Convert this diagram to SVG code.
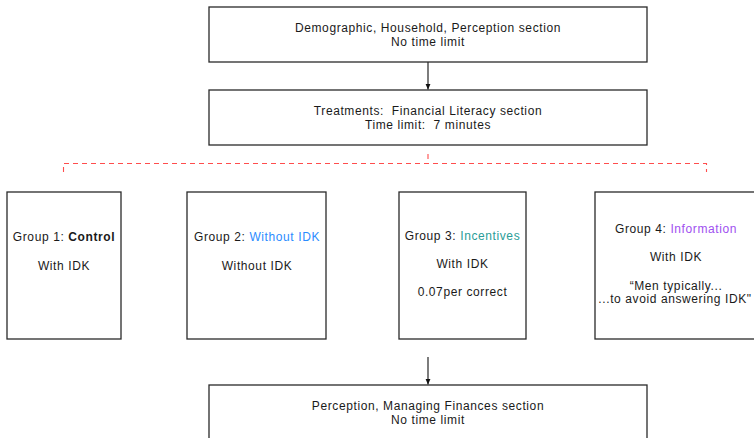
<svg xmlns="http://www.w3.org/2000/svg" width="754" height="438" viewBox="0 0 754 438">
<style>
.box{fill:#fff;stroke:#2a2a2a;stroke-width:1.3}
text{font-family:"Liberation Sans",Arial,Helvetica,sans-serif;font-size:12px;letter-spacing:0.6px;fill:#1a1a1a;text-anchor:middle}
.conn{stroke:#111;stroke-width:1.1;fill:none}
.dash{stroke:#ff4d4d;stroke-width:1.1;fill:none;stroke-dasharray:5 4}
.b{font-weight:bold}
.blue{fill:#2b8cff}
.teal{fill:#2a9d98}
.purple{fill:#a050f0}
</style>
<defs>
<marker id="arr" viewBox="0 0 8 8" refX="8" refY="4" markerWidth="6" markerHeight="6" orient="auto" markerUnits="userSpaceOnUse">
<path d="M0,0.5 L8,4 L0,7.5 Z" fill="#111"/>
</marker>
</defs>
<g id="connectors">
<line class="conn" x1="428" y1="62" x2="428" y2="89.5" marker-end="url(#arr)"/>
<line class="conn" x1="428" y1="357" x2="428" y2="384.5" marker-end="url(#arr)"/>
<path class="dash" d="M428,154 V163.5"/>
<path class="dash" d="M63.5,172 V163.5 H706.5 V172"/>
</g>
<g id="demographic">
<rect class="box" x="209" y="7" width="438" height="55"/>
<text x="428" y="32">Demographic, Household, Perception section</text>
<text x="428" y="46">No time limit</text>
</g>
<g id="treatments">
<rect class="box" x="209" y="90" width="438" height="55"/>
<text x="428" y="115" xml:space="preserve">Treatments:  Financial Literacy section</text>
<text x="428" y="129" xml:space="preserve">Time limit:  7 minutes</text>
</g>
<g id="group1">
<rect class="box" x="7" y="192" width="114" height="147"/>
<text x="64" y="241">Group 1: <tspan class="b">Control</tspan></text>
<text x="64" y="270">With IDK</text>
</g>
<g id="group2">
<rect class="box" x="187" y="192" width="139" height="147"/>
<text x="257" y="241">Group 2: <tspan class="blue">Without IDK</tspan></text>
<text x="257" y="270">Without IDK</text>
</g>
<g id="group3">
<rect class="box" x="399" y="192" width="127" height="147"/>
<text x="462.5" y="240">Group 3: <tspan class="teal">Incentives</tspan></text>
<text x="462.5" y="268">With IDK</text>
<text x="462.5" y="296">0.07per correct</text>
</g>
<g id="group4">
<rect class="box" x="595" y="192" width="170" height="147"/>
<text x="676" y="233">Group 4: <tspan class="purple">Information</tspan></text>
<text x="676" y="261">With IDK</text>
<text x="676" y="290">“Men typically...</text>
<text x="675" y="303">...to avoid answering IDK"</text>
</g>
<g id="perception">
<rect class="box" x="209" y="385" width="438" height="60"/>
<text x="428" y="410">Perception, Managing Finances section</text>
<text x="428" y="424">No time limit</text>
</g>
</svg>
